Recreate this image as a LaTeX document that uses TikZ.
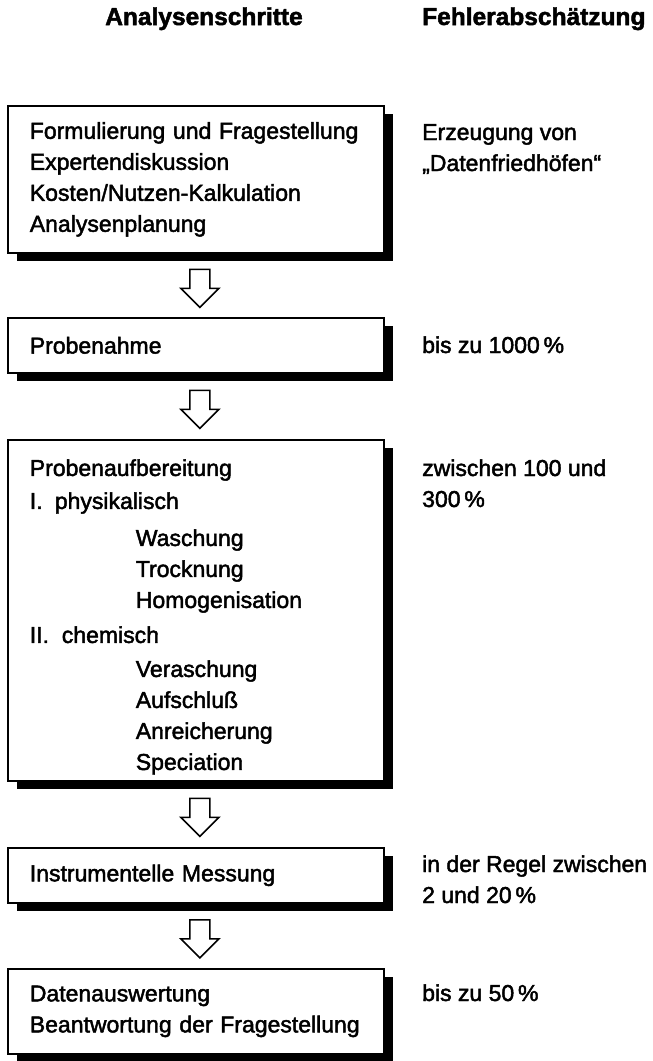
\documentclass[tikz,border=0pt]{standalone}
\usepackage{fontspec}
\setmainfont{Liberation Sans}
\newfontfamily\medfont[FakeBold=2]{Liberation Sans}
\newfontfamily\headfont[FakeBold=2]{Liberation Sans Bold}
\usetikzlibrary{shadows,calc}

\begin{document}
\begin{tikzpicture}[x=1pt,y=-1pt]
		\tikzset{
			stepbox/.style={draw,line width=1.7pt,fill=white,anchor=north west,
				minimum width=376pt,text width=332pt,inner xsep=22pt,inner ysep=0pt,align=left,
				font=\medfont\fontsize{23}{31}\selectfont,
				drop shadow={shadow xshift=9pt,shadow yshift=-8pt,fill=black,opacity=1}},
			note/.style={anchor=base west,align=left,inner sep=0pt,font=\medfont\fontsize{23}{31}\selectfont},
			head/.style={inner sep=0pt,font=\headfont\fontsize{24.5}{31}\selectfont},
			hollow arrow/.pic={\draw[line width=1.7pt,line join=miter,fill=white]
				(-10,-19) -- (-10,0) -- (-19,0) -- (0,19) -- (19,0) -- (10,0) -- (10,-19) -- cycle;}
		}
		\useasboundingbox (0,0) rectangle (653,1061);
		% column heads
		\node[head,anchor=base] (hschritt) at (204,25) {Analysenschritte};
		\node[head,anchor=base west] (hfehler) at (422,25) {Fehlerabschätzung};
		% the five steps
		\node[stepbox,minimum height=147pt] (plan) at (7,105)
			{Formulierung und Fragestellung\\Expertendiskussion\\Kosten/Nutzen-Kalkulation\\Analysenplanung};
		\node[stepbox,minimum height=55pt] (probe) at (7,317) {Probenahme};
		\node[stepbox,minimum height=341pt] (aufb) at (7,439)
			{\rule{0pt}{30pt}Probenaufbereitung\\[2pt]
			\makebox[25pt][l]{I.}physikalisch\\[6pt]
			\hspace*{106pt}Waschung\\
			\hspace*{106pt}Trocknung\\
			\hspace*{106pt}Homogenisation\\[4pt]
			\makebox[32pt][l]{II.}chemisch\\[3pt]
			\hspace*{106pt}Veraschung\\
			\hspace*{106pt}Aufschluß\\
			\hspace*{106pt}Anreicherung\\
			\hspace*{106pt}Speciation};
		\node[stepbox,minimum height=55pt] (mess) at (7,847) {Instrumentelle Messung};
		\node[stepbox,minimum height=85pt] (ausw) at (7,968)
			{Datenauswertung\\Beantwortung der Fragestellung};
		% block arrows between the boxes
		\pic at ($(plan.south)!0.5!(probe.north)+(4,3)$) {hollow arrow};
		\pic at ($(probe.south)!0.5!(aufb.north)+(4,3)$) {hollow arrow};
		\pic at ($(aufb.south)!0.5!(mess.north)+(4,3)$) {hollow arrow};
		\pic at ($(mess.south)!0.5!(ausw.north)+(4,3)$) {hollow arrow};
		% error estimates (base = last line)
		\node[note] (fplan) at (422,171) {Erzeugung von\\„Datenfriedhöfen“};
		\node[note] (fprobe) at (422,353) {bis zu 1000\,\%};
		\node[note] (faufb) at (422,507) {zwischen 100 und\\300\,\%};
		\node[note] (fmess) at (422,903) {in der Regel zwischen\\2 und 20\,\%};
		\node[note] (fausw) at (422,1001) {bis zu 50\,\%};
		% \draw[dashed] (plan.east) -- (fplan.west);
\end{tikzpicture}
\end{document}
